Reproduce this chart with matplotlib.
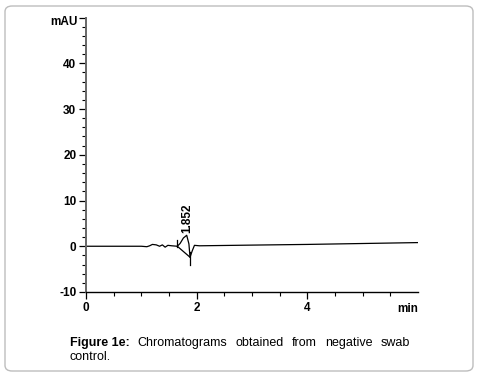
import matplotlib.pyplot as plt
import numpy as np
from matplotlib.patches import FancyBboxPatch
from matplotlib.ticker import FixedLocator, MultipleLocator

# chromatogram trace (min, mAU)
time_min = [0.0, 0.5, 1.0, 1.1, 1.15, 1.2, 1.27, 1.33, 1.38, 1.43, 1.48, 1.55, 1.65,
            1.70, 1.76, 1.82, 1.86, 1.88, 1.92, 1.96, 2.05, 3.0, 4.0, 5.0, 6.0]
signal_mau = [0.0, 0.0, 0.0, -0.1, 0.1, 0.4, 0.3, 0.0, 0.3, -0.2, 0.2, 0.1, 0.0,
              0.6, 1.8, 2.4, 0.5, -2.4, -1.0, 0.2, 0.1, 0.25, 0.4, 0.6, 0.8]

# integration baseline of the peak and its markers
base_time = [1.65, 1.88]
base_mau = [0.0, -2.4]
start_marker = (1.65, -0.2, 1.3)
end_marker = (1.88, -1.3, -4.2)
peak_time = 1.852
peak_label = "1.852"

caption_bold = "Figure 1e:"
caption_line1 = "Chromatograms obtained from negative swab"
caption_line2 = "control."

plt.rcParams['font.family'] = ['Liberation Sans', 'DejaVu Sans']

fig = plt.figure(figsize=(4.79, 3.76), dpi=100)
ax = fig.add_axes([86 / 479, 1 - 292 / 376, (418 - 86) / 479, (292 - 17.5) / 376])

ax.plot(time_min, signal_mau, color="black", lw=0.9)
ax.plot(base_time, base_mau, color="black", lw=0.9)
ax.plot([start_marker[0]] * 2, start_marker[1:], color="black", lw=0.9)
ax.plot([end_marker[0]] * 2, end_marker[1:], color="black", lw=0.9)
ax.text(1.83, 3.0, peak_label, rotation=90, ha="center", va="bottom",
        fontsize=8.5, fontweight="bold")

ax.set_xlim(0, 6)
ax.set_ylim(-10, 50)
ax.spines["top"].set_visible(False)
ax.spines["right"].set_visible(False)
ax.spines["left"].set_color("#666666")
ax.spines["left"].set_linewidth(1.4)
ax.spines["bottom"].set_linewidth(1.0)

ax.set_xticks([0, 2, 4])
ax.xaxis.set_minor_locator(FixedLocator(np.arange(0.5, 6, 0.5)))
ax.set_yticks([-10, 0, 10, 20, 30, 40, 50])
ax.set_yticklabels(["-10", "0", "10", "20", "30", "40", ""])
ax.yaxis.set_minor_locator(MultipleLocator(2))
ax.tick_params(which="major", length=5, width=0.9, labelsize=8.5, pad=2)
ax.tick_params(which="minor", length=3, width=0.8)
for lab in ax.get_xticklabels() + ax.get_yticklabels():
    lab.set_fontweight("bold")

ax.text(-0.15, 49, "mAU", ha="right", va="center", fontsize=8.5, fontweight="bold")
ax.text(6.0, -12.3, "min", ha="right", va="top", fontsize=8.5, fontweight="bold")

# rounded frame round the whole figure
frame = FancyBboxPatch((5 / 479, 5 / 376), 468 / 479, 365 / 376,
                       boxstyle="round,pad=0,rounding_size=0.015",
                       transform=fig.transFigure, fill=False,
                       edgecolor="#bdbdbd", lw=1.0)
fig.patches.append(frame)

# justified caption
fig.canvas.draw()
renderer = fig.canvas.get_renderer()
x0, x1 = 70 / 479, 410 / 479
y1, y2 = 1 - 343 / 376, 1 - 357 / 376
words = [(caption_bold, "bold")] + [(w, "normal") for w in caption_line1.split()]
texts = []
for w, fw in words:
    t = fig.text(0, y1, w, fontsize=9, fontweight=fw, va="center", ha="left")
    texts.append(t)
widths = [t.get_window_extent(renderer).width / fig.bbox.width for t in texts]
gap = (x1 - x0 - sum(widths)) / (len(texts) - 1)
x = x0
for t, wd in zip(texts, widths):
    t.set_x(x)
    x += wd + gap
fig.text(x0, y2, caption_line2, fontsize=9, va="center", ha="left")

fig.savefig("out.png", dpi=100)
